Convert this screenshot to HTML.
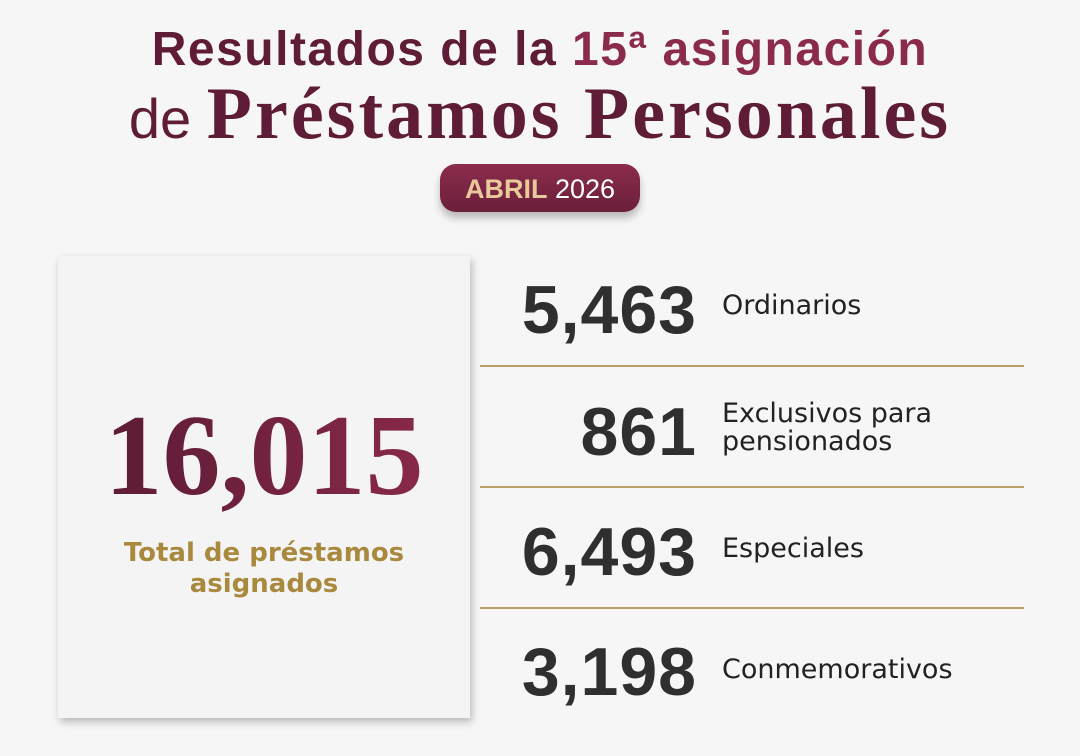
<!DOCTYPE html>
<html><head><meta charset="utf-8"><style>
body{margin:0;width:1080px;height:756px;overflow:hidden;background:#f7f6f6;position:relative;font-family:"Liberation Sans",sans-serif}
.t1{position:absolute;left:0;width:1080px;top:22px;text-align:center;font-family:"Liberation Sans",sans-serif;font-weight:bold;font-size:48px;color:#5e1c36;letter-spacing:1.5px;white-space:nowrap}
.t1 .r{color:#8a2a4c}
.t2{position:absolute;left:0;width:1080px;top:72px;text-align:center;color:#5e1c36;white-space:nowrap}
.t2 .a{font-size:56px;font-family:"Liberation Sans",sans-serif}
.t2 .b{font-size:74px;font-family:"Liberation Serif",serif;font-weight:bold;letter-spacing:3px}
.pill{position:absolute;left:440px;top:164px;width:200px;height:48px;border-radius:16px;background:linear-gradient(#8c2c4d,#6a1f3a);box-shadow:0 6px 8px rgba(0,0,0,.25);text-align:center;line-height:50px;font-size:27px;color:#fff}
.pill b{color:#e8c99a}
.card{position:absolute;left:58px;top:256px;width:412px;height:462px;background:#f5f4f4;box-shadow:2px 4px 8px rgba(0,0,0,.25)}
.big{position:absolute;left:0;width:412px;top:142px;text-align:center;font-family:"Liberation Serif",serif;font-weight:bold;font-size:116px;line-height:116px;background:linear-gradient(90deg,#561a33,#8e2a4c);-webkit-background-clip:text;color:transparent}
.sub{position:absolute;left:0;width:412px;top:282px;text-align:center;font-family:"DejaVu Sans",sans-serif;font-weight:bold;font-size:26px;line-height:31px;color:#a8893e}
.num{position:absolute;right:383px;font-weight:bold;font-size:68px;color:#2f2f2f;line-height:60px;letter-spacing:1px}
.lab{position:absolute;left:722px;font-family:"DejaVu Sans",sans-serif;font-size:27px;color:#222;line-height:28px}
.ln{position:absolute;left:480px;width:544px;height:2px;background:#b9a06a}
</style></head><body>
<div class="t1">Resultados de la <span class="r">15ª asignación</span></div>
<div class="t2"><span class="a">de </span><span class="b">Préstamos Personales</span></div>
<div class="pill"><b>ABRIL</b> 2026</div>
<div class="card"><div class="big">16,015</div><div class="sub">Total de préstamos<br>asignados</div></div>
<div class="num" style="top:280px">5,463</div><div class="lab" style="top:292px">Ordinarios</div>
<div class="ln" style="top:365px"></div>
<div class="num" style="top:402px">861</div><div class="lab" style="top:400px">Exclusivos para<br>pensionados</div>
<div class="ln" style="top:486px"></div>
<div class="num" style="top:522px">6,493</div><div class="lab" style="top:535px">Especiales</div>
<div class="ln" style="top:607px"></div>
<div class="num" style="top:642px">3,198</div><div class="lab" style="top:656px">Conmemorativos</div>
</body></html>
